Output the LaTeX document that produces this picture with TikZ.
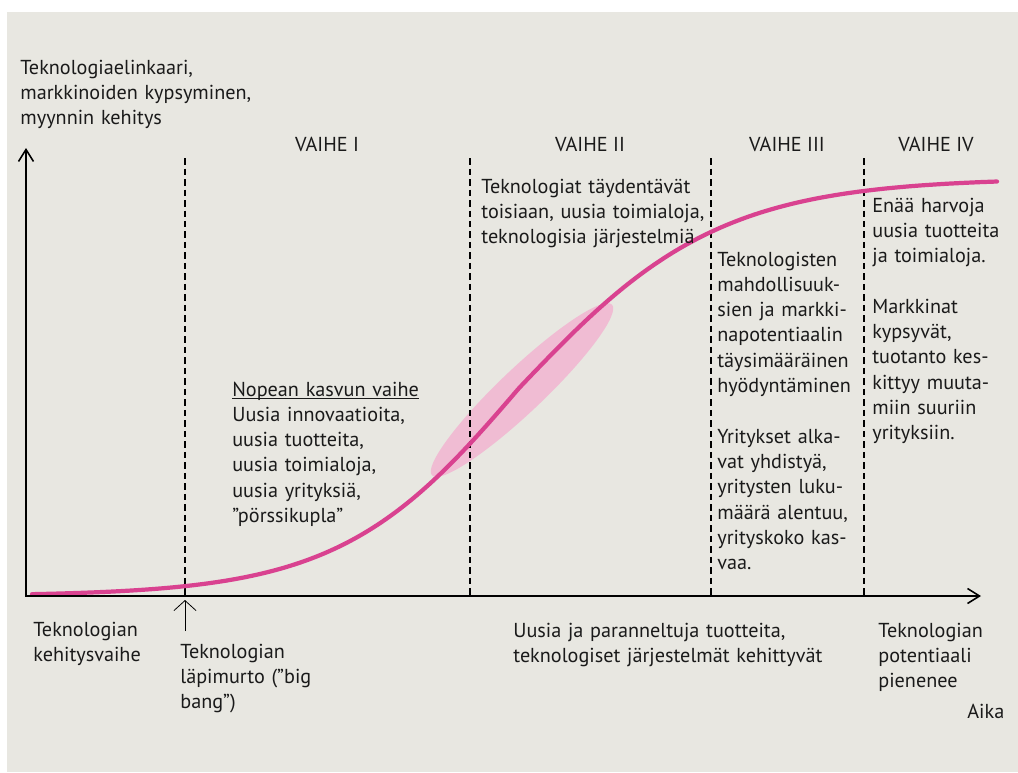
\documentclass[tikz,border=0pt]{standalone}
\usepackage{fontspec}
\setmainfont{PT Sans}
\usetikzlibrary{arrows.meta}
\definecolor{bggrey}{RGB}{232,231,225}
\definecolor{curvepink}{RGB}{217,66,144}
\definecolor{lightpink}{RGB}{240,188,211}
\definecolor{inkblack}{RGB}{26,26,26}

\begin{document}
\begin{tikzpicture}[
  x=0.02cm, y=-0.02cm,
  labeltext/.style={anchor=base west, inner sep=0pt, align=left, text width=8cm, font=\fontsize{11.5}{14.4}\selectfont, text=inkblack},
  phase/.style={anchor=base, inner sep=0pt, font=\fontsize{11.5}{14.4}\selectfont, text=inkblack},
  axis/.style={line width=0.9pt, {Straight Barb[length=2.4mm,width=3mm]}-{Straight Barb[length=2.4mm,width=3mm]}},
  phaseline/.style={line width=0.7pt, dash pattern=on 0.13cm off 0.08cm},
  pointer/.style={line width=0.45pt, -{Straight Barb[length=2mm,width=4.4mm]}},
  scurve/.style={line width=2.4pt, curvepink, line cap=round},
]
\useasboundingbox (0,0) rectangle (1018,772);
\fill[white] (0,0) rectangle (1018,772);
\fill[bggrey] (7,12) rectangle (1018,772);

\fill[lightpink] (522,390) ellipse [x radius=124, y radius=22, rotate=43.5];

\foreach \x in {185,470,711,864}
  \draw[phaseline] (\x,158) -- (\x,596);

\draw[scurve] plot[domain=32:997, samples=120, smooth]
  (\x, {596 - 418/(1+exp(-(\x-520)/(\x<520 ? 90 : 100)))});

\coordinate (origin) at (26,596);
\coordinate (ytop) at (26,148);
\coordinate (xend) at (981,596);
\draw[axis] (ytop) |- (xend);

\coordinate (bangfoot) at (185,631);
\coordinate (bangtip) at (185,600);
\draw[pointer] (bangfoot) -- (bangtip);

\node[labeltext] (ylabel) at (20,74) {Teknologiaelinkaari,\\markkinoiden kypsyminen,\\myynnin kehitys};

\node[phase] (vaihe1) at (327,151) {VAIHE I};
\node[phase] (vaihe2) at (590,151) {VAIHE II};
\node[phase] (vaihe3) at (787,151) {VAIHE III};
\node[phase] (vaihe4) at (936,151) {VAIHE IV};

\node[labeltext] (growth) at (232,396) {\underline{\smash{Nopean kasvun vaihe}}\\Uusia innovaatioita,\\uusia tuotteita,\\uusia toimialoja,\\uusia yrityksiä,\\”pörssikupla”};
\node[labeltext] (phase2text) at (481,193) {Teknologiat täydentävät\\toisiaan, uusia toimialoja,\\teknologisia järjestelmiä};
\node[labeltext] (phase3text) at (717,266) {Teknologisten\\mahdollisuuk-\\sien ja markki-\\napotentiaalin\\täysimääräinen\\hyödyntäminen\\[14.4pt]Yritykset alka-\\vat yhdistyä,\\yritysten luku-\\määrä alentuu,\\yrityskoko kas-\\vaa.};
\node[labeltext] (phase4text) at (872,212) {Enää harvoja\\uusia tuotteita\\ja toimialoja.\\[14.4pt]Markkinat\\kypsyvät,\\tuotanto kes-\\kittyy muuta-\\miin suuriin\\yrityksiin.};

\node[labeltext] (devphase) at (33,636) {Teknologian\\kehitysvaihe};
\node[labeltext] (bigbang) at (180,658) {Teknologian\\läpimurto (”big\\bang”)};
\node[labeltext] (improve) at (513,637) {Uusia ja paranneltuja tuotteita,\\teknologiset järjestelmät kehittyvät};
\node[labeltext] (potential) at (878,637) {Teknologian\\potentiaali\\pienenee};
\node[labeltext] (time) at (967,718) {Aika};
\end{tikzpicture}
\end{document}
